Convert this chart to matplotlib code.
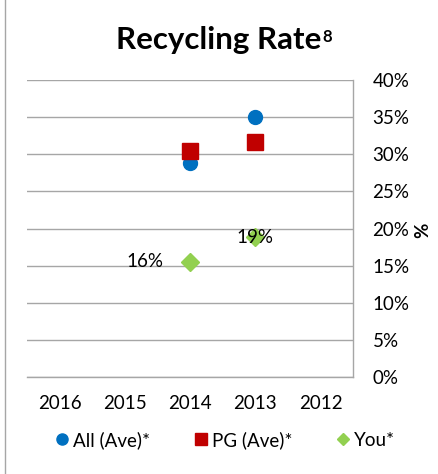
import matplotlib
matplotlib.use("Agg")
import matplotlib.pyplot as plt
from matplotlib.lines import Line2D
from matplotlib.ticker import FuncFormatter

plt.rcParams['font.family'] = ['Lato', 'DejaVu Sans']

years = ["2016", "2015", "2014", "2013", "2012"]
all_ave = [None, None, 28.8, 35.0, None]
pg_ave = [None, None, 30.5, 31.7, None]
you = [None, None, 15.5, 18.8, None]
you_labels = [None, None, "16%", "19%", None]
yticks = [0, 5, 10, 15, 20, 25, 30, 35, 40]

FS = 13.5

fig = plt.figure(figsize=(4.38, 4.74), dpi=100)
ax = fig.add_axes([0.0616, 0.2046, 0.7444, 0.6266])

def pts(vals):
    xs = [i for i, v in enumerate(vals) if v is not None]
    ys = [v for v in vals if v is not None]
    return xs, ys

x, y = pts(all_ave)
ax.plot(x, y, linestyle='none', marker='o', markersize=10, color='#0070C0', zorder=3)
x, y = pts(pg_ave)
ax.plot(x, y, linestyle='none', marker='s', markersize=11.5, color='#C00000', zorder=3)
x, y = pts(you)
ax.plot(x, y, linestyle='none', marker='D', markersize=9, color='#92D050', zorder=4)

# data labels
ax.text(2 - 0.69, you[2], you_labels[2], ha='center', va='center', fontsize=FS, zorder=5)
ax.text(3, you[3], you_labels[3], ha='center', va='center', fontsize=FS, zorder=5)

ax.set_xlim(-0.5, 4.5)
ax.set_ylim(0, 40)
ax.set_xticks(range(len(years)))
ax.set_xticklabels(years)
ax.set_yticks(yticks)
ax.yaxis.set_major_formatter(FuncFormatter(lambda v, p: f"{int(v)}%"))
ax.yaxis.tick_right()
ax.yaxis.set_label_position('right')
ax.tick_params(axis='both', length=0, labelsize=FS)
ax.tick_params(axis='x', pad=13)
ax.tick_params(axis='y', pad=14)
ax.grid(axis='y', color='#A6A6A6', linewidth=1)
ax.set_axisbelow(True)
for s in ['left', 'top']:
    ax.spines[s].set_visible(False)
for s in ['right', 'bottom']:
    ax.spines[s].set_color('#A6A6A6')
    ax.spines[s].set_linewidth(1)

fig.text(0.500, 0.916, "Recycling Rate", ha='center', va='center',
         fontsize=22.5, fontweight='bold')
fig.text(0.737, 0.921, "8", ha='left', va='center', fontsize=12, fontweight='bold')
fig.text(0.966, 0.515, "%", rotation=90, ha='center', va='center', fontsize=FS, fontweight='bold')

handles = [
    Line2D([], [], linestyle='none', marker='o', markersize=8, color='#0070C0'),
    Line2D([], [], linestyle='none', marker='s', markersize=8, color='#C00000'),
    Line2D([], [], linestyle='none', marker='D', markersize=6, color='#92D050'),
]
fig.legend(handles, ["All (Ave)*", "PG (Ave)*", "You*"], ncol=3, loc='center',
           bbox_to_anchor=(0.515, 0.072), frameon=False, fontsize=FS,
           handlelength=0.6, handletextpad=0.3, columnspacing=2.4)

fig.add_artist(Line2D([0.011, 0.011], [0, 1], color='#A6A6A6', linewidth=1))

fig.savefig("out.png", dpi=100)
